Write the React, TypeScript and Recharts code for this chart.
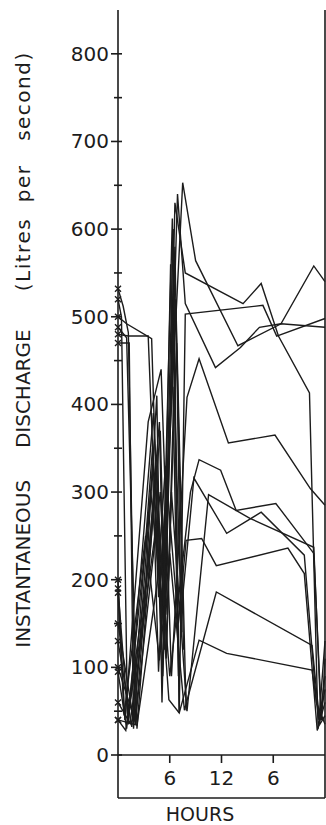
import { LineChart, Line, XAxis, YAxis } from 'recharts';

// Instantaneous discharge (litres per second) against hours, one trace per run.
type Pt = [number, number];

const run01: Pt[] = [[0, 532], [0.6, 512], [1.2, 482], [2.0, 35], [4.8, 380], [5.4, 120], [6.6, 630], [7.8, 550], [14.5, 515], [16.6, 538], [18.6, 478], [22.2, 413], [23.2, 30], [24, 75]];
const run02: Pt[] = [[0, 500], [1.0, 492], [3.9, 475], [5.0, 120], [6.3, 612], [7.1, 48], [7.8, 503], [16.8, 513], [18.4, 478], [24, 498]];
const run03: Pt[] = [[0, 488], [1.0, 476], [2.2, 30], [4.5, 330], [5.2, 90], [6.9, 640], [7.8, 515], [11.3, 442], [14.2, 465], [16.4, 488], [18.9, 492], [24, 488]];
const run04: Pt[] = [[0, 480], [1.2, 478], [3.5, 478], [4.7, 180], [5.9, 340], [7.5, 653], [9.0, 564], [13.9, 467], [18.9, 492], [22.7, 558], [24, 540]];
const run05: Pt[] = [[0, 200], [0.8, 40], [3.5, 380], [5.0, 440], [6.2, 90], [8.0, 408], [9.4, 452], [12.8, 356], [18.2, 365], [22.3, 304], [24, 285]];
const run06: Pt[] = [[0, 130], [1.6, 32], [4.0, 350], [4.8, 240], [6.0, 90], [8.4, 300], [9.4, 337], [11.9, 325], [13.7, 279], [18.3, 287], [22.7, 230], [23.6, 40], [24, 110]];
const run07: Pt[] = [[0, 95], [1.0, 30], [3.8, 300], [5.3, 150], [6.6, 580], [7.3, 160], [8.8, 316], [12.6, 253], [16.6, 277], [21.6, 228], [23.0, 60], [24, 35]];
const run08: Pt[] = [[0, 60], [1.4, 36], [4.4, 260], [5.6, 110], [6.2, 300], [8.0, 50], [10.5, 297], [15.3, 270], [22.7, 237], [23.5, 50], [24, 90]];
const run09: Pt[] = [[0, 40], [2.2, 34], [4.6, 200], [5.5, 330], [7.0, 150], [7.9, 245], [9.7, 247], [11.4, 216], [19.7, 236], [21.6, 207], [23.1, 28], [24, 60]];
const run10: Pt[] = [[0, 185], [0.7, 45], [3.2, 250], [4.8, 108], [6.0, 230], [7.7, 51], [11.4, 186], [22.5, 125], [23.4, 35], [24, 45]];
const run11: Pt[] = [[0, 150], [1.8, 40], [4.2, 300], [5.9, 63], [7.1, 48], [9.4, 131], [12.6, 116], [22.5, 97], [23.3, 40], [24, 130]];
const run12: Pt[] = [[0, 520], [0.4, 500], [1.1, 40], [3.0, 160], [4.5, 410], [5.1, 60], [6.4, 600], [7.1, 48]];
const run13: Pt[] = [[0, 470], [1.3, 470], [1.8, 30], [4.0, 330], [4.7, 95], [6.7, 520], [7.9, 51]];
const run14: Pt[] = [[0, 40], [0.9, 28], [3.7, 230], [4.9, 370], [5.6, 120], [6.5, 420], [7.4, 140]];
const run15: Pt[] = [[0, 190], [1.2, 35], [4.1, 390], [5.3, 170], [6.1, 560], [7.0, 90]];
const run16: Pt[] = [[0, 100], [2.0, 38], [4.9, 300], [5.7, 160], [6.8, 470], [7.6, 120]];

const RUNS = [run01, run02, run03, run04, run05, run06, run07, run08, run09, run10, run11, run12, run13, run14, run15, run16];

const Y_TICKS = [0, 50, 100, 150, 200, 250, 300, 350, 400, 450, 500, 550, 600, 650, 700, 750, 800];
const Y_LABELS = [0, 100, 200, 300, 400, 500, 600, 700, 800];
const X_TICKS = [6, 12, 18];
const X_LABELS: Record<number, string> = { 6: '6', 12: '12', 18: '6' };

const INK = '#1c1c1c';
const FONT = '"DejaVu Sans", sans-serif';

function LeftTick({ x, y, payload }: any) {
  const major = Y_LABELS.includes(payload.value);
  return (
    <g>
      <line x1={x - (major ? 7 : 4)} y1={y} x2={x + 4} y2={y} stroke={INK} strokeWidth={1.6} />
      {major && (
        <text x={x - 9} y={y} textAnchor="end" dominantBaseline="central" fontSize={20} fontFamily={FONT} fill={INK}>
          {payload.value}
        </text>
      )}
    </g>
  );
}

function RightTick({ x, y }: any) {
  return <line x1={x - 5} y1={y} x2={x} y2={y} stroke={INK} strokeWidth={1.6} />;
}

function HourTick({ x, y, payload }: any) {
  return (
    <g>
      <line x1={x} y1={y} x2={x} y2={y + 8} stroke={INK} strokeWidth={1.6} />
      <text x={x} y={y + 23} textAnchor="middle" dominantBaseline="central" fontSize={20} fontFamily={FONT} fill={INK}>
        {X_LABELS[payload.value]}
      </text>
    </g>
  );
}

// box under the time axis plus its caption
function HoursBox({ viewBox }: any) {
  const { x, y, width, height } = viewBox;
  return (
    <g>
      <line x1={x} y1={y} x2={x} y2={y + height} stroke={INK} strokeWidth={1.6} />
      <line x1={x} y1={y + height} x2={x + width} y2={y + height} stroke={INK} strokeWidth={1.6} />
      <line x1={x + width} y1={y} x2={x + width} y2={y + height} stroke={INK} strokeWidth={1.6} />
      <text x={x + 82} y={y + height + 16} textAnchor="middle" dominantBaseline="central" fontSize={19} fontFamily={FONT} fill={INK}>
        HOURS
      </text>
    </g>
  );
}

function DischargeTitle({ viewBox }: any) {
  const cx = viewBox.x + 30;
  const cy = viewBox.y + viewBox.height / 2 - 33;
  return (
    <text
      x={cx}
      y={cy}
      transform={`rotate(-90, ${cx}, ${cy})`}
      textAnchor="middle"
      fontSize={20}
      fontFamily={FONT}
      fill={INK}
      style={{ whiteSpace: 'pre' }}
    >
      <tspan>{'INSTANTANEOUS     DISCHARGE      '}</tspan>
      <tspan letterSpacing={1.5}>{'(Litres  per   second)'}</tspan>
    </text>
  );
}

function StartMark({ cx, cy, index }: any) {
  if (index !== 0) return <g />;
  return (
    <path d={`M${cx - 3},${cy - 3}L${cx + 3},${cy + 3}M${cx - 3},${cy + 3}L${cx + 3},${cy - 3}`} stroke={INK} strokeWidth={1.4} />
  );
}

export default function App() {
  return (
    <div style={{ position: 'fixed', left: 0, top: 0, width: 326, height: 825, overflow: 'hidden', background: '#fff' }}>
      <style>{'html, body { margin: 0; overflow: hidden; }'}</style>
      <LineChart width={326} height={825} margin={{ top: 10, right: 0, bottom: 27, left: 0 }}>
        <XAxis
          type="number"
          dataKey="h"
          domain={[0, 24]}
          ticks={X_TICKS}
          height={43}
          axisLine={{ stroke: INK, strokeWidth: 1.6 }}
          tickLine={false}
          tickSize={0}
          tickMargin={0}
          tick={<HourTick />}
          label={<HoursBox />}
        />
        <YAxis
          yAxisId="l"
          type="number"
          domain={[0, 850]}
          ticks={Y_TICKS}
          width={118}
          axisLine={{ stroke: INK, strokeWidth: 1.6 }}
          tickLine={false}
          tickSize={0}
          tickMargin={0}
          tick={<LeftTick />}
          label={<DischargeTitle />}
        />
        <YAxis
          yAxisId="r"
          orientation="right"
          type="number"
          domain={[0, 850]}
          ticks={Y_TICKS}
          width={1}
          axisLine={{ stroke: INK, strokeWidth: 1.6 }}
          tickLine={false}
          tickSize={0}
          tickMargin={0}
          tick={<RightTick />}
        />
        {RUNS.map((run, i) => (
          <Line
            key={i}
            yAxisId="l"
            data={run.map(([h, v]) => ({ h, v }))}
            dataKey="v"
            type="linear"
            stroke={INK}
            strokeWidth={1.4}
            dot={<StartMark />}
            activeDot={false}
            isAnimationActive={false}
          />
        ))}
      </LineChart>
    </div>
  );
}
